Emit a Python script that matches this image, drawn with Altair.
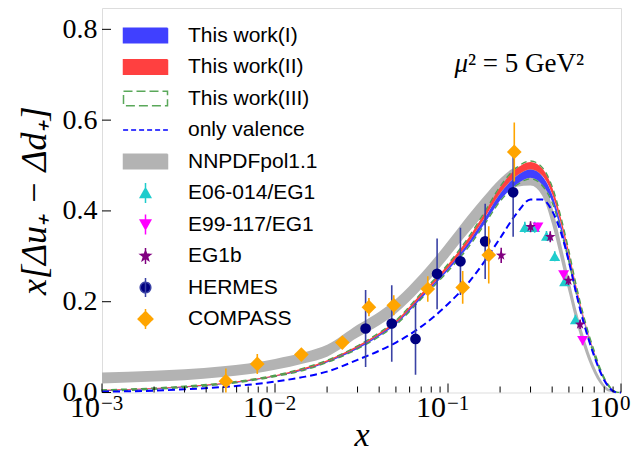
import altair as alt
import pandas as pd

# ---------------- data ----------------
X = [0.001, 0.002, 0.003, 0.005, 0.007, 0.01, 0.015, 0.02, 0.03, 0.04, 0.05, 0.07,
     0.1, 0.13, 0.16, 0.2, 0.25, 0.3, 0.35, 0.4, 0.45, 0.5, 0.55, 0.6, 0.65, 0.7,
     0.75, 0.8, 0.85, 0.9, 0.95, 1.0]

I_LO = [0.003, 0.007, 0.011, 0.018, 0.025, 0.035, 0.050, 0.066, 0.096, 0.124, 0.150, 0.207,
        0.269, 0.320, 0.368, 0.423, 0.459, 0.473, 0.458, 0.420, 0.357, 0.289, 0.220, 0.164,
        0.119, 0.083, 0.051, 0.029, 0.013, 0.004, 0.0004, 0.0]
I_HI = [0.005, 0.009, 0.013, 0.020, 0.027, 0.037, 0.053, 0.069, 0.100, 0.128, 0.154, 0.213,
        0.275, 0.329, 0.380, 0.438, 0.477, 0.491, 0.477, 0.436, 0.370, 0.299, 0.228, 0.170,
        0.124, 0.087, 0.054, 0.031, 0.015, 0.005, 0.0006, 0.0]
II_LO = [0.004, 0.008, 0.012, 0.019, 0.026, 0.036, 0.052, 0.068, 0.099, 0.127, 0.153, 0.212,
         0.274, 0.328, 0.380, 0.439, 0.478, 0.492, 0.478, 0.437, 0.371, 0.300, 0.229, 0.171,
         0.125, 0.088, 0.055, 0.031, 0.015, 0.005, 0.0006, 0.0]
II_HI = [0.006, 0.010, 0.014, 0.021, 0.028, 0.038, 0.055, 0.071, 0.103, 0.131, 0.158, 0.218,
         0.282, 0.338, 0.391, 0.452, 0.494, 0.508, 0.494, 0.452, 0.384, 0.310, 0.237, 0.177,
         0.129, 0.091, 0.057, 0.033, 0.016, 0.005, 0.0007, 0.0]
III_LO = [0.003, 0.007, 0.011, 0.018, 0.025, 0.035, 0.050, 0.066, 0.096, 0.123, 0.149, 0.206,
          0.267, 0.318, 0.366, 0.421, 0.457, 0.471, 0.456, 0.418, 0.355, 0.287, 0.219, 0.163,
          0.118, 0.082, 0.051, 0.029, 0.013, 0.004, 0.0004, 0.0]
III_HI = [0.006, 0.010, 0.014, 0.021, 0.028, 0.038, 0.055, 0.071, 0.103, 0.132, 0.159, 0.219,
          0.283, 0.340, 0.393, 0.454, 0.496, 0.510, 0.496, 0.454, 0.386, 0.312, 0.238, 0.178,
          0.130, 0.092, 0.058, 0.033, 0.016, 0.005, 0.0007, 0.0]
VAL = [0.002, 0.004, 0.007, 0.012, 0.017, 0.024, 0.035, 0.046, 0.072, 0.092, 0.110, 0.145,
       0.195, 0.240, 0.285, 0.340, 0.395, 0.425, 0.425, 0.400, 0.352, 0.288, 0.220, 0.162,
       0.117, 0.080, 0.050, 0.027, 0.012, 0.003, 0.0004, 0.0]
NN_LO = [0.020, 0.024, 0.027, 0.034, 0.040, 0.050, 0.065, 0.079, 0.121, 0.148, 0.174, 0.228,
         0.297, 0.351, 0.390, 0.429, 0.453, 0.456, 0.434, 0.370, 0.292, 0.219, 0.156, 0.108,
         0.070, 0.042, 0.022, 0.009, 0.002, 0.0005, 0.0002, 0.0]
NN_HI = [0.044, 0.048, 0.051, 0.058, 0.064, 0.074, 0.089, 0.105, 0.149, 0.178, 0.206, 0.262,
         0.333, 0.389, 0.430, 0.471, 0.497, 0.500, 0.476, 0.410, 0.328, 0.251, 0.184, 0.132,
         0.090, 0.058, 0.034, 0.017, 0.008, 0.0025, 0.0002, 0.0]

E06_X = [0.278, 0.317, 0.371, 0.414, 0.472, 0.545]
E06_Y = [0.364, 0.364, 0.3445, 0.300, 0.2445, 0.161]
E06_E = [0.012, 0.012, 0.011, 0.011, 0.010, 0.010]

E99_X = [0.331, 0.466, 0.600]
E99_Y = [0.364, 0.2588, 0.114]
E99_E = [0.010, 0.010, 0.010]

EG1B_X = [0.203, 0.300, 0.390, 0.497, 0.580]
EG1B_Y = [0.302, 0.365, 0.343, 0.2467, 0.150]
EG1B_E = [0.017, 0.012, 0.012, 0.010, 0.010]

HERMES_X = [0.0334, 0.0473, 0.0649, 0.0865, 0.118, 0.164, 0.238]
HERMES_Y = [0.141, 0.152, 0.118, 0.2615, 0.289, 0.333, 0.441]
HERMES_E = [0.085, 0.084, 0.079, 0.078, 0.074, 0.083, 0.098]

COMPASS_X = [0.0052, 0.0079, 0.0142, 0.0245, 0.0349, 0.0486, 0.0764, 0.1216, 0.172, 0.2416]
COMPASS_Y = [0.025, 0.063, 0.0835, 0.110, 0.188, 0.192, 0.228, 0.2315, 0.303, 0.530]
COMPASS_E = [0.028, 0.022, 0.012, 0.010, 0.020, 0.022, 0.028, 0.036, 0.063, 0.065]

LEGEND_LABELS = ["This work(I)", "This work(II)", "This work(III)", "only valence",
                 "NNPDFpol1.1", "E06-014/EG1", "E99-117/EG1", "EG1b", "HERMES", "COMPASS"]

X_MAJOR = [0.001, 0.01, 0.1, 1.0]
X_EXP = ["−3", "−2", "−1", "0"]
X_MINOR = [0.002, 0.003, 0.004, 0.005, 0.006, 0.007, 0.008, 0.009,
           0.02, 0.03, 0.04, 0.05, 0.06, 0.07, 0.08, 0.09,
           0.2, 0.3, 0.4, 0.5, 0.6, 0.7, 0.8, 0.9]
Y_TICKS = [0.0, 0.2, 0.4, 0.6, 0.8]

# ---------------- styling ----------------
W, H = 519, 384.5
SERIF = "Liberation Serif"
SANS = "Liberation Sans"

BLUE = "#4040ff"
RED = "#ff4040"
GREEN = "#4f9f4f"
GREY = "#b3b3b3"
CYAN = "#1fcccc"
MAGENTA = "#ff00ff"
PURPLE = "#800080"
NAVY = "#000080"
ORANGE = "#ffa500"

STAR = ("M0,-1L0.235,-0.324L0.951,-0.309L0.38,0.124L0.588,0.809L0,0.4"
        "L-0.588,0.809L-0.38,0.124L-0.951,-0.309L-0.235,-0.324Z")

# legend symbol paths (unit = 8 px for symbolSize 256)
L_RECT = "M-2.75,-0.9H2.75V0.9H-2.75Z"
L_LINE = "M-2.8,0H2.8"
L_TUP = "M0,-1.25V1.25M0,-0.6L0.65,0.55L-0.65,0.55Z"
L_TDN = "M0,-1.25V1.25M0,0.6L0.65,-0.55L-0.65,-0.55Z"
L_STAR = ("M0,-1V1M0,-0.65L0.153,-0.211L0.618,-0.201L0.247,0.081L0.382,0.526L0,0.26"
          "L-0.382,0.526L-0.247,0.081L-0.618,-0.201L-0.153,-0.211Z")
L_CIRC = "M0,-1.2V1.2M0.66,0A0.66,0.66,0,1,1,-0.66,0A0.66,0.66,0,1,1,0.66,0Z"
L_DIAM = "M0,-1.25V1.25M0,-0.92L0.92,0L0,0.92L-0.92,0Z"

xs = alt.Scale(type="log", domain=[0.001, 1.0])
ys = alt.Scale(domain=[0, 0.847])

YTITLE = "x[Δu₊ − Δd₊]"
x_axis = alt.Axis(labels=False, ticks=False, domain=False, grid=False,
                  titleFont=SERIF, titleFontSize=34, titleFontStyle="italic",
                  titleFontWeight="normal", titleColor="black", titlePadding=26)
y_axis = alt.Axis(values=Y_TICKS, format=".1f", ticks=False, domain=False, grid=False,
                  labelFont=SERIF, labelFontSize=28, labelColor="black", labelPadding=5,
                  titleFont=SERIF, titleFontSize=36, titleFontStyle="italic",
                  titleFontWeight="normal", titleColor="black", titlePadding=9)


def X_(field):
    return alt.X(field, type="quantitative", scale=xs, axis=x_axis, title="x")


def Y_(field):
    return alt.Y(field, type="quantitative", scale=ys, axis=y_axis, title=YTITLE)


curves = pd.DataFrame(dict(x=X, i_lo=I_LO, i_hi=I_HI, ii_lo=II_LO, ii_hi=II_HI,
                           iii_lo=III_LO, iii_hi=III_HI, val=VAL, nn_lo=NN_LO, nn_hi=NN_HI))
base = alt.Chart(curves)

nn = base.mark_area(color=GREY, interpolate="monotone").encode(
    x=X_("x"), y=Y_("nn_lo"), y2="nn_hi")
b1 = base.mark_area(color=BLUE, interpolate="monotone").encode(
    x=X_("x"), y=Y_("i_lo"), y2="i_hi")
b2 = base.mark_area(color=RED, interpolate="monotone").encode(
    x=X_("x"), y=Y_("ii_lo"), y2="ii_hi")
b3 = base.mark_area(fillOpacity=0, stroke=GREEN, strokeWidth=1.3, strokeDash=[6, 4],
                    interpolate="monotone").encode(
    x=X_("x"), y=Y_("iii_lo"), y2="iii_hi")
val = base.mark_line(color="#0000ff", strokeWidth=2, strokeDash=[7, 4],
                     interpolate="monotone").encode(x=X_("x"), y=Y_("val"))


def points(xv, yv, ev, color, shape, size, bar_color=None):
    df = pd.DataFrame(dict(x=xv, y=yv, e=ev))
    df["lo"] = df["y"] - df["e"]
    df["hi"] = df["y"] + df["e"]
    c = alt.Chart(df)
    bars = c.mark_rule(color=bar_color or color, strokeWidth=1.6, clip=True).encode(
        x=X_("x"), y=Y_("lo"), y2="hi")
    pts = c.mark_point(filled=True, opacity=1, color=color, shape=shape, size=size,
                       strokeWidth=0).encode(x=X_("x"), y=Y_("y"))
    return [bars, pts]


data_layers = []
data_layers += points(E06_X, E06_Y, E06_E, CYAN, "triangle-up", 120)
data_layers += points(E99_X, E99_Y, E99_E, MAGENTA, "triangle-down", 120)
data_layers += points(EG1B_X, EG1B_Y, EG1B_E, PURPLE, STAR, 121)
data_layers += points(HERMES_X, HERMES_Y, HERMES_E, NAVY, "circle", 115, "#3a42a5")
data_layers += points(COMPASS_X, COMPASS_Y, COMPASS_E, ORANGE, "diamond", 215)

# legend built from scales (dummy points outside the plotted domain, clipped)
leg_df = pd.DataFrame(dict(series=LEGEND_LABELS, x=[1e-5] * len(LEGEND_LABELS),
                           y=[0.5] * len(LEGEND_LABELS)))
legend = alt.Legend(orient="none", legendX=33, legendY=17, title=None, padding=0,
                    labelFont=SANS, labelFontSize=21, labelColor="black", labelLimit=400,
                    symbolSize=256, symbolStrokeWidth=1.5, rowPadding=4.5,
                    gridAlign="all", labelOffset=32, symbolOpacity=1)
leg = alt.Chart(leg_df).mark_point(opacity=1, clip=True, size=256, strokeWidth=1.5).encode(
    x=X_("x"), y=Y_("y"),
    fill=alt.Fill("series:N", legend=legend, scale=alt.Scale(
        domain=LEGEND_LABELS,
        range=[BLUE, RED, "transparent", "transparent", GREY, CYAN, MAGENTA, PURPLE, NAVY, ORANGE])),
    stroke=alt.Stroke("series:N", legend=legend, scale=alt.Scale(
        domain=LEGEND_LABELS,
        range=[BLUE, RED, "#5aa85a", "#0000ff", GREY, CYAN, MAGENTA, PURPLE, "#3a42a5", ORANGE])),
    shape=alt.Shape("series:N", legend=legend, scale=alt.Scale(
        domain=LEGEND_LABELS,
        range=[L_RECT, L_RECT, L_RECT, L_LINE, L_RECT, L_TUP, L_TDN, L_STAR, L_CIRC, L_DIAM])),
    strokeDash=alt.StrokeDash("series:N", legend=legend, scale=alt.Scale(
        domain=LEGEND_LABELS,
        range=[[1, 0], [1, 0], [9, 4], [5, 3], [1, 0], [1, 0], [1, 0], [1, 0], [1, 0], [1, 0]])),
)

# inward tick marks
minor_df = pd.DataFrame(dict(v=X_MINOR))
major_df = pd.DataFrame(dict(v=X_MAJOR, e=X_EXP, b=["10"] * len(X_MAJOR)))
ytick_df = pd.DataFrame(dict(v=Y_TICKS))
xminor = alt.Chart(minor_df).mark_rule(color="black", strokeWidth=1).encode(
    x=X_("v"), y=alt.value(H), y2=alt.value(H - 6))
xmajor = alt.Chart(major_df).mark_rule(color="black", strokeWidth=1).encode(
    x=X_("v"), y=alt.value(H), y2=alt.value(H - 9))
yticks = alt.Chart(ytick_df).mark_rule(color="black", strokeWidth=1).encode(
    y=Y_("v"), x=alt.value(0), x2=alt.value(9))

# x tick labels 10^n
xlab_base = alt.Chart(major_df).mark_text(font=SERIF, fontSize=30, align="right",
                                          baseline="alphabetic", dx=-2, color="black").encode(
    x=X_("v"), y=alt.value(H + 24.5), text="b:N")
xlab_exp = alt.Chart(major_df).mark_text(font=SERIF, fontSize=21, align="left",
                                         baseline="alphabetic", dx=-1, color="black").encode(
    x=X_("v"), y=alt.value(H + 17), text="e:N")

# annotation
ann_df = pd.DataFrame(dict(a=["μ"], b=["² = 5 GeV²"]))
ann1 = alt.Chart(ann_df).mark_text(font=SERIF, fontSize=27, fontStyle="italic", align="right",
                                   baseline="alphabetic", color="black").encode(
    x=alt.value(366), y=alt.value(64), text="a:N")
ann2 = alt.Chart(ann_df).mark_text(font=SERIF, fontSize=27, align="left",
                                   baseline="alphabetic", color="black").encode(
    x=alt.value(366), y=alt.value(64), text="b:N")

chart = alt.layer(
    nn, b1, b2, b3, val, *data_layers, leg, xminor, xmajor, yticks,
    xlab_base, xlab_exp, ann1, ann2
).properties(
    width=W, height=H,
    padding={"left": 94, "top": 0, "right": 13, "bottom": 60},
    autosize=alt.AutoSizeParams(type="none"),
).configure_view(
    stroke="black", strokeWidth=1.2
).configure(background="white")

chart.save("out.html", embed_options={"renderer": "svg", "actions": False})
